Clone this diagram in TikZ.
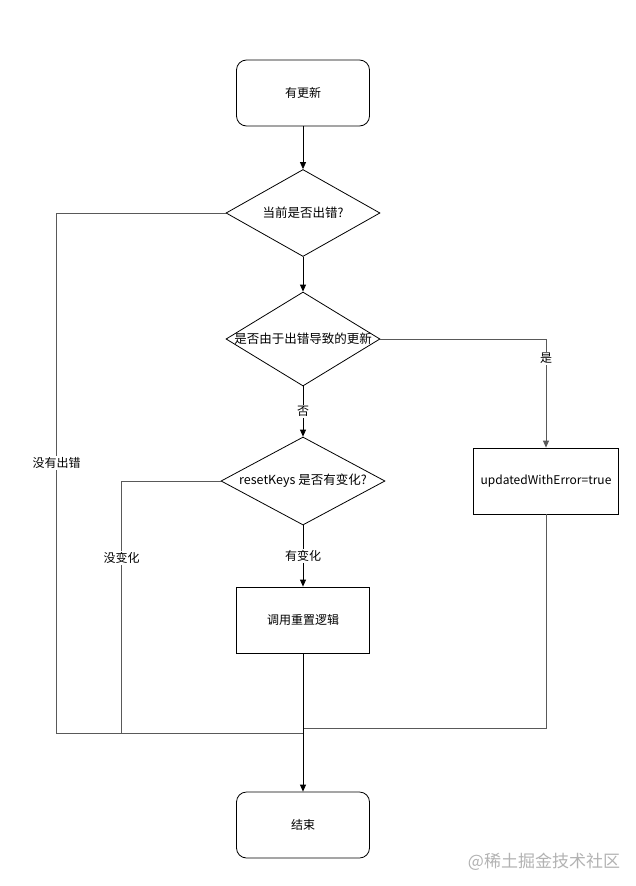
\documentclass[tikz,border=0pt]{standalone}
\usepackage{fontspec}
\setmainfont{Noto Sans CJK SC}
\usepackage{tikz}
\usetikzlibrary{arrows.meta,positioning,shapes.geometric,calc}

\begin{document}
\begin{tikzpicture}[x=1pt,y=-1pt,
		term/.style={rectangle, rounded corners=10pt, draw, line width=0.8pt, minimum width=133pt, minimum height=66pt, font=\fontsize{12}{14}\selectfont},
		proc/.style={rectangle, draw, line width=0.8pt, minimum width=133pt, minimum height=66pt, font=\fontsize{12}{14}\selectfont},
		dec/.style={diamond, draw, line width=0.8pt, inner sep=0pt, label={[font=\fontsize{12.5}{14}\selectfont]center:#1}},
		lab/.style={fill=white, inner sep=1.5pt, font=\fontsize{12}{14}\selectfont},
		arr/.style={line width=0.8pt, -{Triangle[length=7pt,width=6pt]}},
		ln/.style={line width=0.8pt, draw=black!65}
		]
		\useasboundingbox (0,0) rectangle (636,886);
		\node[term] (start) at (303,93) {有更新};
		\node[dec={当前是否出错?}, minimum width=154pt, minimum height=87pt] (q1) at (303,213) {};
		\node[dec={是否由于出错导致的更新}, minimum width=154pt, minimum height=94pt] (q2) at (303,339) {};
		\node[dec={resetKeys 是否有变化?}, minimum width=164pt, minimum height=88pt] (q3) at (303,481) {};
		\node[proc] (reset) at (303,620) {调用重置逻辑};
		\node[proc, minimum width=145pt] (flag) at (546,481) {updatedWithError=true};
		\node[term] (end) at (303,825) {结束};
		\coordinate (jn) at (303,733);
		\coordinate (jt) at (303,728);
		\draw[arr] (start) -- (q1);
		\draw[arr] (q1) -- (q2);
		\draw[arr] (q2) -- node[lab] {否} (q3);
		\draw[arr] (q3) -- node[lab] {有变化} (reset);
		\draw[ln] (q1.west) -- ++(-169,0) |- node[lab, pos=0.24, text=black] {没有出错} (jn);
		\draw[ln] (q3.west) -- ++(-99,0) |- node[lab, pos=0.153, text=black] {没变化} (jn);
		\draw[ln, arr] (q2.east) -| node[lab, pos=0.59, text=black] {是} (flag);
		\draw[ln] (flag) |- (jt);
		\draw[arr] (reset) -- (end);
		\node[text=black!30, font=\fontsize{17}{19}\selectfont] (mark) at (544,862) {@稀土掘金技术社区};
	\end{tikzpicture}
\end{document}
